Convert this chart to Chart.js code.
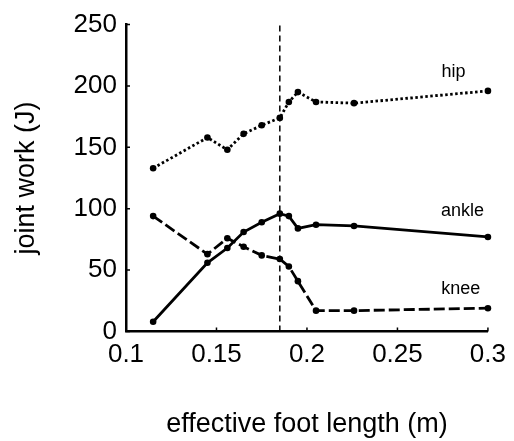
<!DOCTYPE html>
<html>
<head>
<meta charset="utf-8">
<script src="https://cdn.jsdelivr.net/npm/chart.js@4"></script>
<style>
  html, body { margin: 0; padding: 0; background: #fff; }
  canvas { display: block; }
</style>
</head>
<body>
<canvas id="c" width="514" height="441"></canvas>
<script>
// ---- data ----
const footLength = [0.115, 0.145, 0.156, 0.165, 0.175, 0.185, 0.19, 0.195, 0.205, 0.226, 0.3];
const hipWork   = [133, 158, 148, 161, 168, 174, 187, 195, 187, 186, 196];
const ankleWork = [8, 56, 68, 81, 89, 96, 94, 84, 87, 86, 77];
const kneeWork  = [94, 63, 76, 69, 62, 59, 53, 41, 17, 17, 19];
const markerX = 0.185;
const xTicks = [0.1, 0.15, 0.2, 0.25, 0.3];
const yTicks = [0, 50, 100, 150, 200, 250];
const seriesLabels = [
  { text: 'hip',   x: 0.281, y: 211 },
  { text: 'ankle', x: 0.286, y: 98 },
  { text: 'knee',  x: 0.285, y: 35 }
];

const FONT = '"Liberation Sans", Arial, Helvetica, sans-serif';
const pts = ys => footLength.map((x, i) => ({ x, y: ys[i] }));

const innerTicks = {
  id: 'innerTicks',
  afterDraw(chart) {
    const { ctx, scales: { x, y }, chartArea } = chart;
    ctx.save();
    ctx.strokeStyle = '#000';
    ctx.lineWidth = 1.5;
    ctx.beginPath();
    xTicks.forEach(v => {
      const px = x.getPixelForValue(v);
      ctx.moveTo(px, chartArea.bottom);
      ctx.lineTo(px, chartArea.bottom - 4);
    });
    yTicks.forEach(v => {
      const py = y.getPixelForValue(v);
      ctx.moveTo(chartArea.left, py);
      ctx.lineTo(chartArea.left + 4, py);
    });
    ctx.stroke();
    // series name labels
    ctx.fillStyle = '#000';
    ctx.font = '18px ' + FONT;
    ctx.textAlign = 'center';
    ctx.textBaseline = 'middle';
    seriesLabels.forEach(l => {
      ctx.fillText(l.text, x.getPixelForValue(l.x), y.getPixelForValue(l.y));
    });
    ctx.restore();
  }
};

const common = {
  borderColor: '#000',
  backgroundColor: '#000',
  pointBackgroundColor: '#000',
  pointBorderColor: '#000',
  pointRadius: 3.3,
  pointBorderWidth: 0,
  borderWidth: 2.8,
  tension: 0,
  fill: false,
  clip: false
};

new Chart(document.getElementById('c'), {
  type: 'line',
  data: {
    datasets: [
      Object.assign({}, common, { label: 'hip', data: pts(hipWork), borderDash: [2.5, 2.5] }),
      Object.assign({}, common, { label: 'ankle', data: pts(ankleWork) }),
      Object.assign({}, common, { label: 'knee', data: pts(kneeWork), borderDash: [11, 4] }),
      {
        label: 'marker', data: [{ x: markerX, y: 0 }, { x: markerX, y: 250 }],
        borderColor: '#000', borderWidth: 1.5, borderDash: [6, 4], pointRadius: 0, fill: false, clip: false
      }
    ]
  },
  options: {
    responsive: false,
    animation: false,
    devicePixelRatio: 1,
    layout: { padding: { top: 21, right: 26, bottom: 0, left: 0 } },
    plugins: { legend: { display: false }, tooltip: { enabled: false } },
    scales: {
      x: {
        type: 'linear', min: 0.1, max: 0.3,
        afterBuildTicks: s => { s.ticks = xTicks.map(v => ({ value: v })); },
        afterFit: s => { s.height = 441 - 331.5; },
        grid: { display: false, drawTicks: false },
        border: { display: true, color: '#000', width: 2.5 },
        ticks: { color: '#000', padding: 8, maxRotation: 0, autoSkip: false,
                 font: { family: FONT, size: 26 }, callback: v => String(v) },
        title: { display: true, text: 'effective foot length (m)', color: '#000',
                 font: { family: FONT, size: 27 }, padding: { top: 0, bottom: 0 } }
      },
      y: {
        type: 'linear', min: 0, max: 250,
        afterBuildTicks: s => { s.ticks = yTicks.map(v => ({ value: v })); },
        afterFit: s => { s.width = 126; },
        grid: { display: false, drawTicks: false },
        border: { display: true, color: '#000', width: 2.5 },
        ticks: { color: '#000', padding: 9, autoSkip: false,
                 font: { family: FONT, size: 26 }, callback: v => String(v) },
        title: { display: true, text: 'joint work (J)', color: '#000',
                 font: { family: FONT, size: 27 }, padding: { top: 10, bottom: 0 } }
      }
    }
  },
  plugins: [innerTicks]
});
</script>
</body>
</html>
